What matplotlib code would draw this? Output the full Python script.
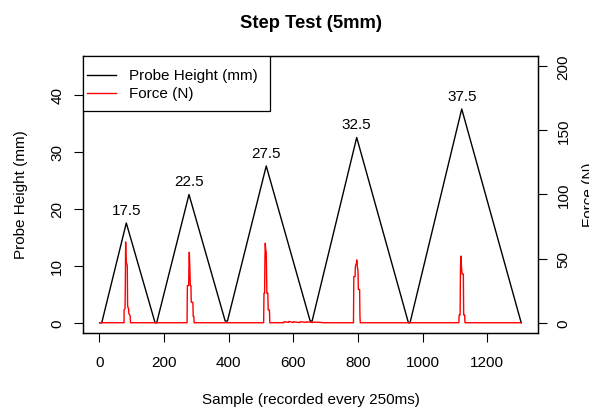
import matplotlib
matplotlib.use("Agg")
import matplotlib.pyplot as plt
from matplotlib.lines import Line2D
from matplotlib.patches import Rectangle

plt.rcParams['font.family'] = ['Liberation Sans', 'DejaVu Sans']

# probe height: turning points of the step test (sample, mm)
height_x = [1, 7, 83, 172, 177, 277, 389, 396, 516, 652, 658, 796, 956, 961, 1121, 1305]
height_y = [0, 0, 17.5, 0, 0, 22.5, 0.3, 0.3, 27.5, 0.3, 0.3, 32.5, 0, 0, 37.5, 0]

peak_x = [83, 277, 516, 796, 1121]
peak_y = [17.5, 22.5, 27.5, 32.5, 37.5]
peak_labels = ["17.5", "22.5", "27.5", "32.5", "37.5"]

# force trace (sample, N)
force_x = [2, 76, 76, 79, 80, 81, 82, 84, 86, 87, 88, 90, 91, 94, 95, 96,
           271, 272, 276, 277, 278, 280, 281, 283, 284, 289, 290, 292, 293,
           508, 509, 511, 512, 513, 514, 516, 517, 518, 521, 522, 526, 527,
           560, 570, 571, 585, 586, 600, 601, 620, 621, 640, 641, 660, 661, 690, 691,
           786, 787, 791, 792, 793, 795, 796, 797, 798, 800, 801, 805, 806, 807,
           1112, 1113, 1116, 1117, 1118, 1119, 1120, 1122, 1126, 1127, 1130, 1131, 1305]
force_y = [0, 0, 10, 11, 30, 63, 50, 46, 45, 14, 12, 11, 7, 6, 5, 0,
           0, 29, 29, 48, 55, 40, 29, 29, 16, 16, 5, 5, 0,
           0, 23, 23, 50, 62, 58, 55, 40, 23, 23, 10, 10, 0,
           0, 0, 0.8, 0.3, 1.0, 0.2, 0.7, 0.1, 0.8, 0.3, 0.7, 0.2, 0.5, 0.2, 0,
           0, 36, 36, 44, 45, 46, 49, 47, 44, 40, 26, 26, 5, 0,
           0, 6, 6, 42, 50, 52, 44, 38, 38, 6, 6, 0, 0]

legend_labels = ["Probe Height (mm)", "Force (N)"]
legend_colors = ["black", "red"]

fig = plt.figure(figsize=(5.89, 4.10), dpi=100)
ax = fig.add_axes([83 / 589, 1 - 334 / 410, 455 / 589, 277 / 410])
ax2 = ax.twinx()

ax.plot(height_x, height_y, color='black', lw=1.0)
ax2.plot(force_x, force_y, color='red', lw=1.0)

for px, py, lab in zip(peak_x, peak_y, peak_labels):
    ax.annotate(lab, (px, py), xytext=(0, 9.7), textcoords='offset points',
                ha='center', va='center', fontsize=11)

ax.set_xlim(-51, 1357)
ax.set_ylim(-1.8, 46.8)
ax2.set_ylim(-8, 208)

ax.set_xticks([0, 200, 400, 600, 800, 1000, 1200])
ax.set_yticks([0, 10, 20, 30, 40])
ax2.set_yticks([0, 50, 100, 150, 200])

ax.tick_params(axis='x', length=6.5, width=0.8, pad=9, labelsize=11)
ax.tick_params(axis='y', length=6.5, width=0.8, pad=7, labelsize=11, labelrotation=90)
ax2.tick_params(axis='y', length=6.5, width=0.8, pad=7, labelsize=11, labelrotation=90)
for lab in ax.get_yticklabels() + ax2.get_yticklabels():
    lab.set_va('center')

for a in (ax, ax2):
    for s in a.spines.values():
        s.set_linewidth(0.9)

ax.set_title("Step Test (5mm)", fontsize=13.2, fontweight='bold', pad=21)
fig.text(311 / 589, 1 - 400 / 410, "Sample (recorded every 250ms)", ha='center', va='center', fontsize=11)
fig.text(21 / 589, 1 - 195 / 410, "Probe Height (mm)", ha='center', va='center', rotation=90, fontsize=11)
fig.text(589 / 589, 1 - 195 / 410, "Force (N)", ha='center', va='center', rotation=90, fontsize=11)

# R-style legend box in the top-left corner
ax2.add_patch(Rectangle((0, 0.801), 0.411, 0.199, transform=ax2.transAxes,
                        facecolor='white', edgecolor='black', lw=0.9, zorder=5))
row_y = [0.931, 0.866]
for ry, lab, col in zip(row_y, legend_labels, legend_colors):
    ax2.add_line(Line2D([0.009, 0.0725], [ry, ry], color=col, lw=1.0,
                        transform=ax2.transAxes, zorder=6))
    ax2.text(0.101, ry, lab, transform=ax2.transAxes, ha='left', va='center',
             fontsize=11, zorder=6)

fig.savefig("out.png", dpi=100)
